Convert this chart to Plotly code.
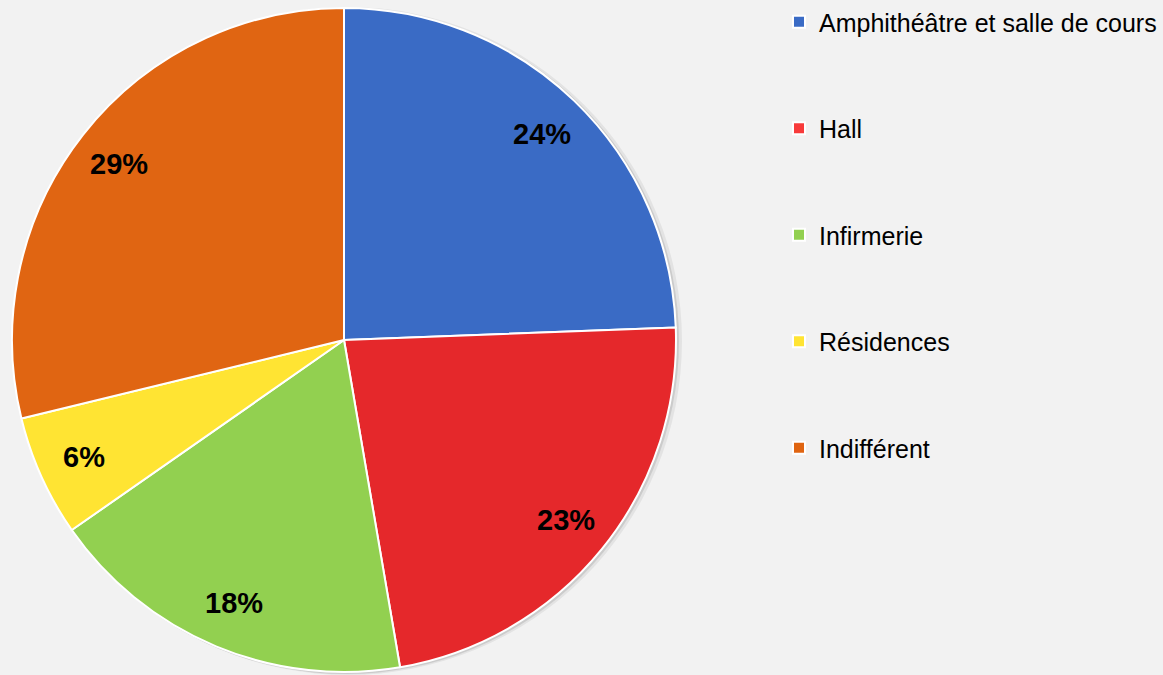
import math

import plotly.graph_objects as go

# Répartition des réponses (parts, en %)
categories = ["Amphithéâtre et salle de cours", "Hall", "Infirmerie", "Résidences", "Indifférent"]
values = [24.4, 22.9, 18.0, 5.9, 28.8]
colors = ["#3a6bc5", "#e5282b", "#92d050", "#ffe433", "#e06512"]
legend_colors = ["#3a6bc5", "#f83b3b", "#92d050", "#ffe433", "#e06512"]

W, H = 1163, 675
BG = "#f2f2f2"
FONT = "Liberation Sans, Arial, sans-serif"

# pie geometry in pixels (center, radius) and label radius as a fraction of it
CX, CY, R = 344, 340, 332
LABEL_R = 0.86


def dom(cx, cy, r):
    return dict(x=[(cx - r) / W, (cx + r) / W], y=[(H - cy - r) / H, (H - cy + r) / H])


fig = go.Figure()

# soft shadow behind the pie (offset to the right, slightly down)
for dx, dy, dr, a in [(4, 1, 2, 0.06), (2, 1, 1, 0.10)]:
    fig.add_trace(
        go.Pie(
            values=[1],
            labels=["shadow"],
            sort=False,
            marker=dict(colors=[f"rgba(0,0,0,{a})"], line=dict(width=0)),
            textinfo="none",
            hoverinfo="skip",
            showlegend=False,
            domain=dom(CX + dx, CY + dy, R + dr),
        )
    )

fig.add_trace(
    go.Pie(
        labels=categories,
        values=values,
        sort=False,
        direction="clockwise",
        rotation=0,
        marker=dict(colors=colors, line=dict(color="white", width=2)),
        textinfo="none",
        showlegend=False,
        domain=dom(CX, CY, R),
        hovertemplate="%{label}: %{percent:.0%}<extra></extra>",
    )
)

# percentage labels placed near the rim of each slice
total = sum(values)
cum = 0.0
for v in values:
    mid = (cum + v / 2) / total * 2 * math.pi
    cum += v
    px = CX + LABEL_R * R * math.sin(mid)
    py = CY - LABEL_R * R * math.cos(mid)
    fig.add_annotation(
        x=px / W,
        y=1 - py / H,
        xref="paper",
        yref="paper",
        xanchor="center",
        yanchor="middle",
        text=f"<b>{round(v / total * 100)}%</b>",
        showarrow=False,
        font=dict(family=FONT, size=29, color="black"),
    )

# legend entries drawn with empty square-marker traces, one group each for spacing
for name, c in zip(categories, legend_colors):
    fig.add_trace(
        go.Scatter(
            x=[None],
            y=[None],
            mode="markers",
            name=name,
            legendgroup=name,
            marker=dict(symbol="square", size=13, color=c, line=dict(color="white", width=1.5)),
        )
    )

fig.update_layout(
    width=W,
    height=H,
    paper_bgcolor=BG,
    plot_bgcolor=BG,
    margin=dict(l=0, r=0, t=0, b=0, pad=0, autoexpand=False),
    xaxis=dict(visible=False),
    yaxis=dict(visible=False),
    legend=dict(
        x=779 / W,
        xanchor="left",
        y=1 - 235 / H,
        yanchor="middle",
        font=dict(family=FONT, size=25, color="black"),
        tracegroupgap=71,
        itemsizing="constant",
        bgcolor="rgba(0,0,0,0)",
    ),
)

fig.write_html(
    "out.html",
    config={"displayModeBar": False},
    post_script="document.body.style.margin='0px';",
)
